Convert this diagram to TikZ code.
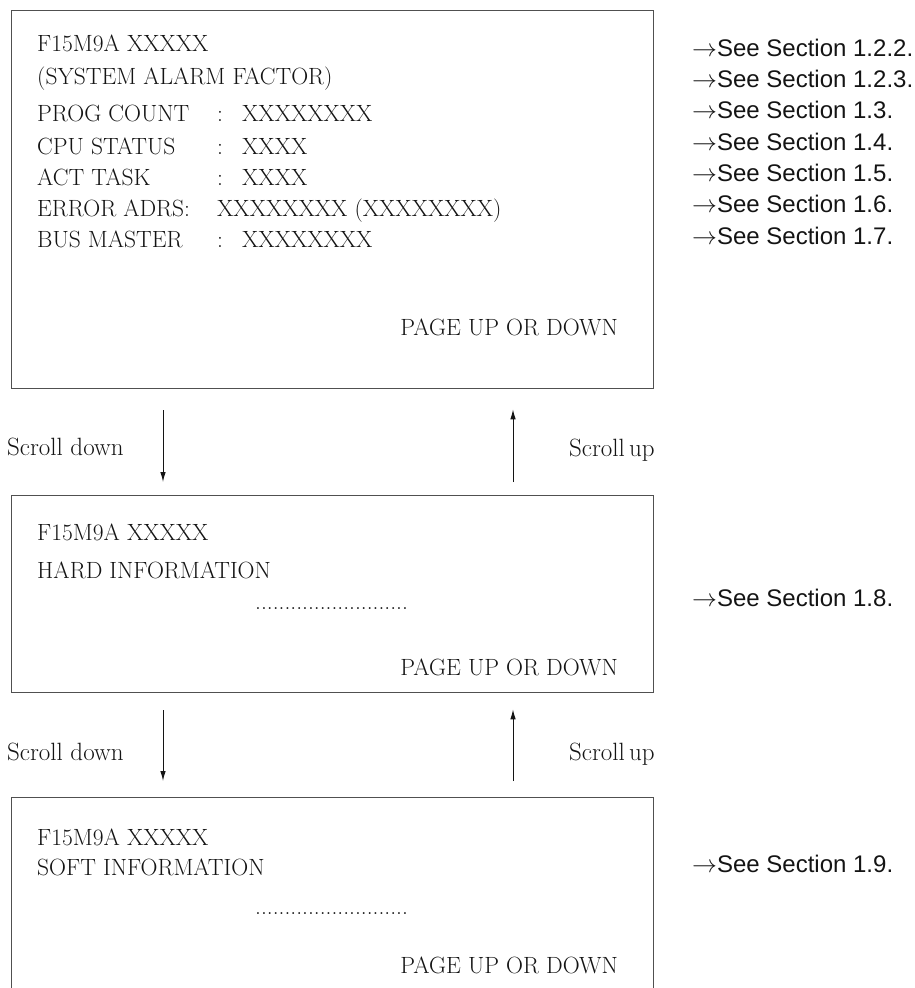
\documentclass[tikz,border=0pt]{standalone}
\usepackage{fontspec}
\usepackage{tikz}
\usetikzlibrary{arrows.meta, positioning, calc}
\newfontfamily\refsans{Liberation Sans}
\definecolor{frame1}{RGB}{80,80,80}
\definecolor{ink1}{RGB}{20,20,20}
\newcommand{\see}[1]{$\rightarrow$See Section #1.}

\begin{document}
\begin{tikzpicture}[
  x=1pt, y=-1pt,
  screen/.style={rectangle, draw=frame1, line width=1.3pt, anchor=north west,
                 inner sep=0pt, minimum width=642pt},
  txt/.style={anchor=base west, inner sep=0pt, text=ink1,
               font=\fontsize{23.5}{27}\selectfont},
  txtr/.style={txt, anchor=base east},
  dotrow/.style={txt},
  lbl/.style={txt, font=\fontsize{25}{29}\selectfont},
  ref/.style={anchor=base west, inner sep=0pt, text=ink1,
              font=\refsans\fontsize{24}{28}\selectfont},
  arr/.style={-{Latex[length=10pt,width=5.5pt]}, line width=1pt, draw=ink1},
]
\useasboundingbox (0,0) rectangle (914,988);
\clip (0,0) rectangle (914,988);

% the three screens
\node[screen, minimum height=378pt] (scrA) at (11,10) {};
\node[screen, minimum height=197pt] (scrB) at (11,495) {};
\node[screen, minimum height=230pt] (scrC) at (11,797) {};

% first screen
\node[txt] (idA)  at (37,51)  {F15M9A XXXXX};
\node[txt] (facA) at (37,84)  {(SYSTEM ALARM FACTOR)};
\node[txt] (pcA)  at (37,121) {PROG COUNT};
\node[txt] (cpuA) at (37,154) {CPU STATUS};
\node[txt] (actA) at (37,185) {ACT TASK};
\node[txt] (errA) at (37,216) {ERROR ADRS:};
\node[txt] (busA) at (37,247) {BUS MASTER};
\node[txt] (pcC)  at (217,121) {:};
\node[txt] (cpuC) at (217,154) {:};
\node[txt] (actC) at (217,185) {:};
\node[txt] (busC) at (217,247) {:};
\node[txt] (pcV)  at (242,121) {XXXXXXXX};
\node[txt] (cpuV) at (242,154) {XXXX};
\node[txt] (actV) at (242,185) {XXXX};
\node[txt] (errV) at (217,216) {XXXXXXXX (XXXXXXXX)};
\node[txt] (busV) at (242,247) {XXXXXXXX};
\node[txtr] (pgA) at (618,335) {PAGE UP OR DOWN};

% second screen
\node[txt] (idB)   at (37,540) {F15M9A XXXXX};
\node[txt] (hardB) at (37,578) {HARD INFORMATION};
\node[dotrow] (dotB) at (255,609) {..........................};
\node[txtr] (pgB)  at (618,675) {PAGE UP OR DOWN};

% third screen
\node[txt] (idC)   at (37,845) {F15M9A XXXXX};
\node[txt] (softC) at (37,875) {SOFT INFORMATION};
\node[dotrow] (dotC) at (255,914) {..........................};
\node[txtr] (pgC)  at (618,973) {PAGE UP OR DOWN};

% scrolling
\draw[arr] ([xshift=152pt, yshift=-21pt]scrA.south west) -- ([xshift=152pt, yshift=13pt]scrB.north west);
\draw[arr] ([xshift=502pt, yshift=13pt]scrB.north west) -- ([xshift=502pt, yshift=-20pt]scrA.south west);
\draw[arr] ([xshift=152pt, yshift=-17pt]scrB.south west) -- ([xshift=152pt, yshift=16pt]scrC.north west);
\draw[arr] ([xshift=502pt, yshift=16pt]scrC.north west) -- ([xshift=502pt, yshift=-16pt]scrB.south west);

\node[lbl] (dnA) at (7,455)   {Scroll down};
\node[lbl] (upA) at (569,456) {Scroll\,up};
\node[lbl] (dnB) at (7,760)   {Scroll down};
\node[lbl] (upB) at (569,760) {Scroll\,up};

% references
\node[ref] (ref1) at (692,56)  {\see{1.2.2}};
\node[ref] (ref2) at (692,87)  {\see{1.2.3}};
\node[ref] (ref3) at (692,118) {\see{1.3}};
\node[ref] (ref4) at (692,150) {\see{1.4}};
\node[ref] (ref5) at (692,181) {\see{1.5}};
\node[ref] (ref6) at (692,212) {\see{1.6}};
\node[ref] (ref7) at (692,244) {\see{1.7}};
\node[ref] (ref8) at (692,606) {\see{1.8}};
\node[ref] (ref9) at (692,872) {\see{1.9}};

\end{tikzpicture}
\end{document}
